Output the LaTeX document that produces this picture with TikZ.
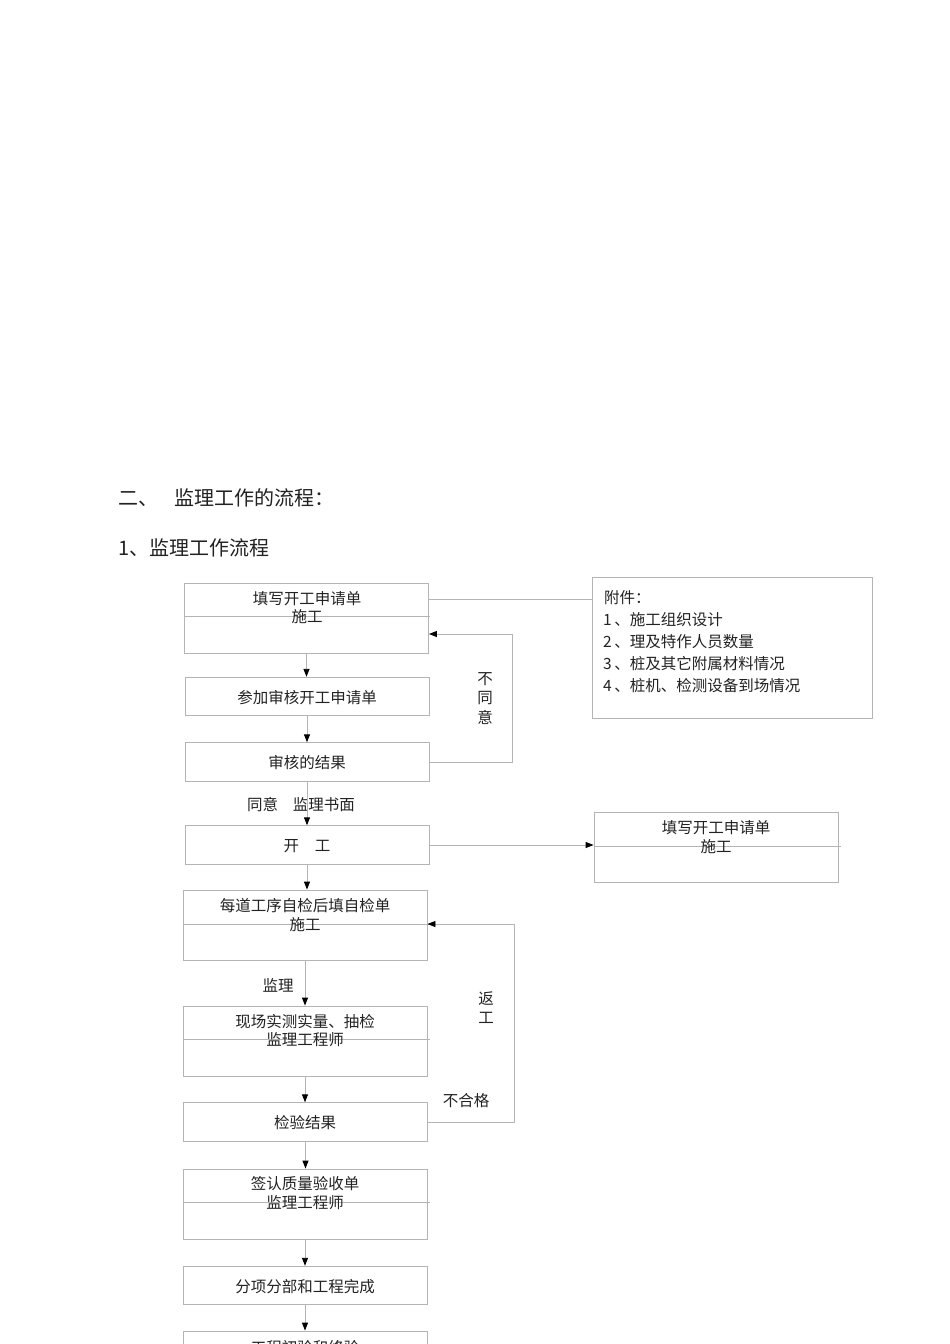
\documentclass[tikz,border=0pt]{standalone}
\usepackage{fontspec}
\setmainfont{Liberation Sans}
\newfontfamily\cjk{Noto Sans CJK SC}
\usetikzlibrary{arrows.meta}
\definecolor{boxgray}{HTML}{B4B4B4}
\definecolor{ink}{HTML}{222222}
\tikzset{
  box/.style={draw=boxgray, line width=0.9pt, rectangle, inner sep=0pt},
  tbox/.style={box, minimum width=244pt, minimum height=70pt},
  sbox/.style={box, minimum width=244pt, minimum height=38.5pt},
  txt/.style={font=\cjk\fontsize{15.5}{18}\selectfont, text=ink, inner sep=0pt, yshift=-1pt},
  head/.style={font=\cjk\fontsize{20}{24}\selectfont, text=ink, inner sep=0pt, anchor=west},
  conn/.style={draw=boxgray, line width=0.9pt},
  arr/.style={conn, -{Triangle[length=8pt,width=6pt,color=black]}},
  midline/.style={draw=boxgray, line width=0.9pt}
}
\begin{document}
\begin{tikzpicture}[x=1pt,y=-1pt]
\useasboundingbox (0,0) rectangle (950,1344);
\fill[white] (0,0) rectangle (950,1344);

% headings
\node[head] (h1) at (118,498) {二、\hspace{16pt}监理工作的流程：};
\node[head] (h2) at (118,548) {1、监理工作流程};

% left column boxes
\node[tbox] (b1) at (306.5,618) {};
\node[sbox] (b2) at (307,696.5) {};
\node[sbox] (b3) at (307,762) {};
\node[sbox] (b4) at (307,845) {};
\node[tbox] (b6) at (305,925) {};
\node[tbox] (b7) at (305,1041) {};
\node[sbox] (b8) at (305.5,1122) {};
\node[tbox] (b9) at (305,1204) {};
\node[sbox] (b10) at (305,1285.5) {};
\node[tbox] (b11) at (305,1366) {};

% right boxes
\node[box, minimum width=280pt, minimum height=141pt] (att) at (732,647.5) {};
\node[tbox] (b5) at (716,847) {};

% inner lines
\draw[midline] (b1.west |- 0,616) -- (430,616);
\draw[midline] (b5.west |- 0,846) -- (841,846);
\draw[midline] (b6.west |- 0,924) -- (430,924);
\draw[midline] (b7.west |- 0,1039) -- (430,1039);
\draw[midline] (b9.west |- 0,1202) -- (430,1202);

% texts
\node[txt] (t1a) at (307,598) {填写开工申请单};
\node[txt] (t1b) at (307,616) {施工};
\node[txt] (t2) at (307,697) {参加审核开工申请单};
\node[txt] (t3) at (307,762) {审核的结果};
\node[txt] (t4) at (307,845) {开\hspace{16pt}工};
\node[txt] (t5a) at (716,827) {填写开工申请单};
\node[txt] (t5b) at (716,846) {施工};
\node[txt] (t6a) at (305,905) {每道工序自检后填自检单};
\node[txt] (t6b) at (305,924) {施工};
\node[txt] (t7a) at (305,1021) {现场实测实量、抽检};
\node[txt] (t7b) at (305,1039) {监理工程师};
\node[txt] (t8) at (305,1122) {检验结果};
\node[txt] (t9a) at (305,1183) {签认质量验收单};
\node[txt] (t9b) at (305,1202) {监理工程师};
\node[txt] (t10) at (305,1286) {分项分部和工程完成};
\node[txt] (t11) at (305,1347) {工程初验和终验};

% attachment text
\node[txt, anchor=west] (a0) at (604,597) {附件：};
\node[txt, anchor=west] (a1) at (603,619) {1\,、施工组织设计};
\node[txt, anchor=west] (a2) at (603,641) {2\,、理及特作人员数量};
\node[txt, anchor=west] (a3) at (603,663) {3\,、桩及其它附属材料情况};
\node[txt, anchor=west] (a4) at (603,685) {4\,、桩机、检测设备到场情况};

% labels
\node[txt] (l1) at (485,678) {不};
\node[txt] (l2) at (485,697) {同};
\node[txt] (l3) at (485,716) {意};
\node[txt] (l4) at (301,804) {同意\hspace{15pt}监理书面};
\node[txt] (l5) at (278,984) {监理};
\node[txt] (l6) at (486,998) {返};
\node[txt] (l7) at (486,1017) {工};
\node[txt] (l8) at (466,1100) {不合格};

% connectors
\coordinate (c1) at (429,599);
\draw[conn] (c1) -- (c1 -| att.west);
\draw[arr] (b1.south) -- (b1.south |- b2.north);
\draw[arr] (b2.south) -- (b2.south |- b3.north);
\coordinate (fb1) at (512,634);
\draw[arr] (b3.east) -| (fb1) -- (fb1 -| b1.east);
\draw[arr] (b3.south) -- (b3.south |- b4.north);
\draw[arr] (b4.east) -- (b4.east -| b5.west);
\draw[arr] (b4.south) -- (b4.south |- b6.north);
\draw[arr] (b6.south) -- (b6.south |- b7.north);
\draw[arr] (b7.south) -- (b7.south |- b8.north);
\coordinate (fb2) at (514,924);
\draw[arr] (b8.east) -| (fb2) -- (fb2 -| b6.east);
\draw[arr] (b8.south) -- (b8.south |- b9.north);
\draw[arr] (b9.south) -- (b9.south |- b10.north);
\draw[arr] (b10.south) -- (b10.south |- b11.north);
\end{tikzpicture}
\end{document}
